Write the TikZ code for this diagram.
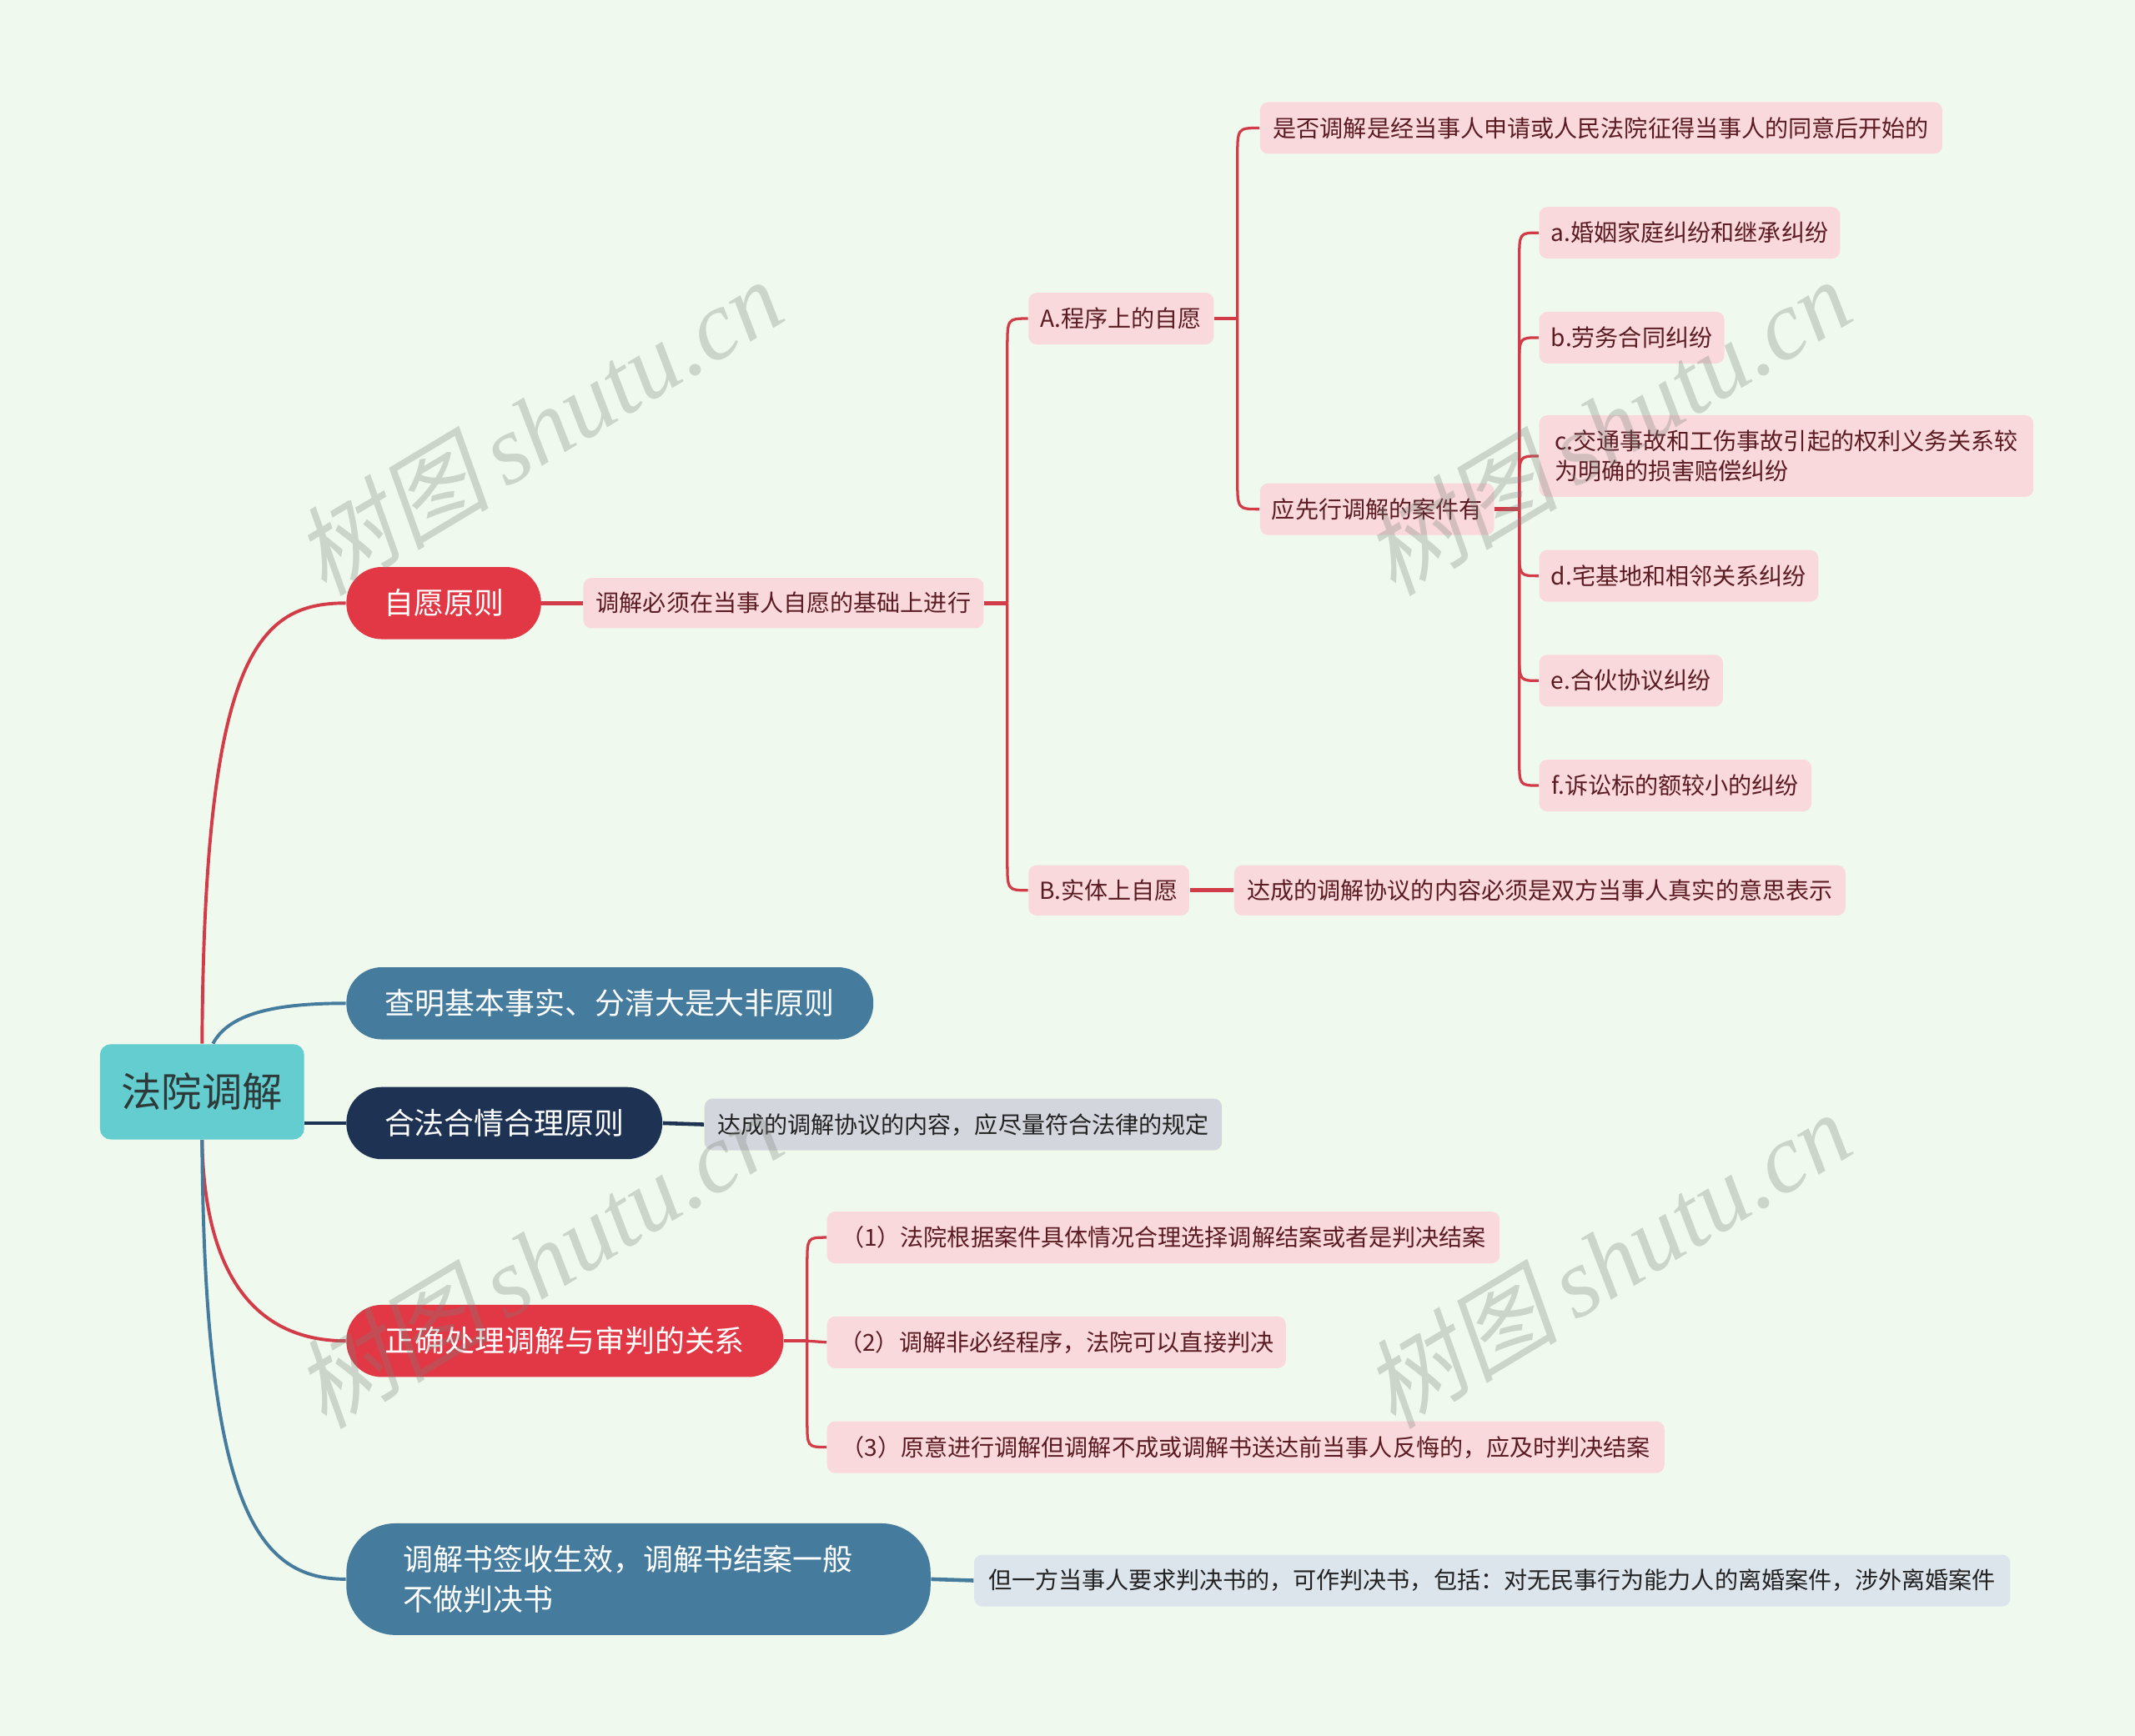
\documentclass[tikz,border=0pt]{standalone}
\usepackage{fontspec}
\setmainfont{Noto Sans CJK SC}
\newfontfamily\wmserif{Liberation Serif}
\newfontfamily\wmcjk[FakeSlant=0.2]{Noto Sans CJK SC}
\usetikzlibrary{calc}
\definecolor{bgc}{HTML}{F0F9EE}
\definecolor{rootfill}{HTML}{63CDD0}
\definecolor{roottext}{HTML}{2E3A3A}
\definecolor{redfill}{HTML}{E23744}
\definecolor{bluefill}{HTML}{457B9D}
\definecolor{navyfill}{HTML}{1E3354}
\definecolor{pinkfill}{HTML}{FAD9DC}
\definecolor{grayfill}{HTML}{D3D6DC}
\definecolor{lbluefill}{HTML}{DCE4EC}
\definecolor{redline}{HTML}{D23C48}
\definecolor{pinktext}{HTML}{5A1B22}
\definecolor{darktext}{HTML}{222222}
\definecolor{wmgray}{HTML}{7A827A}
\newcommand\brk[4]{\draw[#1] (#2) -- ($(#2 |- #3.west)+(0,#4)$) .. controls (#2 |- #3.west) .. (#3.west);}
\begin{document}
\begin{tikzpicture}[x=0.5pt,y=-0.5pt,
  sz/.style 2 args={minimum width={#1*0.5pt}, minimum height={#2*0.5pt}},
  base/.style={anchor=west, inner sep=0pt, align=center},
  rootnode/.style={base, fill=rootfill, rounded corners=4pt, text=roottext, font=\fontsize{14.8}{18}\selectfont},
  lone/.style={base, rounded corners=13pt, text=white, font=\fontsize{11}{14.5}\selectfont},
  leaf/.style={base, rounded corners=3pt, fill=pinkfill, text=pinktext, font=\fontsize{8.6}{11}\selectfont},
  rl/.style={draw=redline, line width=1pt},
  bl/.style={draw=bluefill, line width=1pt},
  nl/.style={draw=navyfill, line width=1pt},
  wm/.style={text=wmgray, opacity=0.3, rotate=31, inner sep=0pt}
]
\fill[bgc] (0,0) rectangle (1568,1275);
\useasboundingbox (0,0) rectangle (1568,1275);

% root and main branches
\node[rootnode, sz={150}{70}] (root) at (73,802) {法院调解};
\node[lone, fill=redfill, sz={143}{53}] (n1) at (254,443) {自愿原则};
\node[lone, fill=bluefill, sz={387}{53}] (n2) at (254,737) {查明基本事实、分清大是大非原则};
\node[lone, fill=navyfill, sz={232}{53}] (n3) at (254,825) {合法合情合理原则};
\node[lone, fill=redfill, sz={321}{53}] (n4) at (254,985) {正确处理调解与审判的关系};
\node[lone, fill=bluefill, minimum height=41pt, inner xsep=21pt, text width=172.5pt, rounded corners=18pt, align=left] (n5) at (254,1160) {调解书签收生效，调解书结案一般\\不做判决书};

% leaves of 自愿原则
\node[leaf, sz={294}{37}] (l1) at (428,443) {调解必须在当事人自愿的基础上进行};
\node[leaf, sz={136}{38}] (A) at (755,234) {A.程序上的自愿};
\node[leaf, sz={118}{37}] (B) at (755,654) {B.实体上自愿};
\node[leaf, sz={501}{38}] (A1) at (925,94) {是否调解是经当事人申请或人民法院征得当事人的同意后开始的};
\node[leaf, sz={172}{38}] (A2) at (925,374) {应先行调解的案件有};
\node[leaf, sz={221}{38}] (ca) at (1130,171) {a.婚姻家庭纠纷和继承纠纷};
\node[leaf, sz={136}{38}] (cb) at (1130,248) {b.劳务合同纠纷};
\node[leaf, sz={363}{60}, align=left] (cc) at (1130,335) {c.交通事故和工伤事故引起的权利义务关系较\\为明确的损害赔偿纠纷};
\node[leaf, sz={205}{38}] (cd) at (1130,423) {d.宅基地和相邻关系纠纷};
\node[leaf, sz={135}{38}] (ce) at (1130,500) {e.合伙协议纠纷};
\node[leaf, sz={200}{38}] (cf) at (1130,577) {f.诉讼标的额较小的纠纷};
\node[leaf, sz={449}{37}] (B1) at (906,654) {达成的调解协议的内容必须是双方当事人真实的意思表示};

% other leaves
\node[leaf, fill=grayfill, text=darktext, sz={380}{38}] (g1) at (517,826) {达成的调解协议的内容，应尽量符合法律的规定};
\node[leaf, sz={494}{38}] (r1) at (607,909) {（1）法院根据案件具体情况合理选择调解结案或者是判决结案};
\node[leaf, sz={337}{38}] (r2) at (607,986) {（2）调解非必经程序，法院可以直接判决};
\node[leaf, sz={615}{38}] (r3) at (607,1063) {（3）原意进行调解但调解不成或调解书送达前当事人反悔的，应及时判决结案};
\node[leaf, fill=lbluefill, text=darktext, sz={761}{38}] (u1) at (715,1161) {但一方当事人要求判决书的，可作判决书，包括：对无民事行为能力人的离婚案件，涉外离婚案件};

% root connectors
\draw[rl, line width=1.2pt] (root.north) .. controls (150,480) and (190,443) .. (n1.west);
\draw[bl, line width=1.2pt] ($(root.north)+(8,0)$) .. controls (168,745) and (200,737) .. (n2.west);
\draw[nl, line width=1.4pt] (root.east |- n3.west) -- (n3.west);
\draw[rl, line width=1.2pt] (root.south) .. controls (150,940) and (190,985) .. (n4.west);
\draw[bl, line width=1.2pt] (root.south) .. controls (150,1110) and (190,1160) .. (n5.west);

% level connectors
\draw[rl, line width=1.4pt] (n1.east) -- (l1.west);
\coordinate (bl1) at ($(l1.east)+(17,0)$);
\draw[rl, line width=1.4pt] (l1.east) -- (bl1);
\brk{rl}{bl1}{A}{22}
\brk{rl}{bl1}{B}{-22}

\coordinate (bA) at ($(A.east)+(17,0)$);
\draw[rl, line width=1.4pt] (A.east) -- (bA);
\brk{rl}{bA}{A1}{22}
\brk{rl}{bA}{A2}{-22}

\coordinate (bA2) at ($(A2.east)+(18,0)$);
\draw[rl, line width=1.4pt] (A2.east) -- (bA2);
\brk{rl}{bA2}{ca}{20}
\brk{rl}{bA2}{cb}{20}
\brk{rl}{bA2}{cc}{20}
\brk{rl}{bA2}{cd}{-20}
\brk{rl}{bA2}{ce}{-20}
\brk{rl}{bA2}{cf}{-20}

\draw[rl, line width=1.4pt] (B.east) -- (B1.west);
\draw[nl, line width=1.4pt] (n3.east) -- (g1.west);

\coordinate (bn4) at ($(n4.east)+(17,0)$);
\draw[rl, line width=1.4pt] (n4.east) -- (bn4);
\brk{rl}{bn4}{r1}{20}
\draw[rl] (bn4) -- (r2.west);
\brk{rl}{bn4}{r3}{-20}

\draw[bl, line width=1.4pt] (n5.east) -- (u1.west);

% watermarks
\foreach \p [count=\i] in {(395,313),(1180,313),(395,925),(1180,925)}
  \node[wm] (wm\i) at \p {\fontsize{36}{40}\selectfont\wmcjk 树图\,\wmserif\itshape shutu.cn};
\end{tikzpicture}
\end{document}
